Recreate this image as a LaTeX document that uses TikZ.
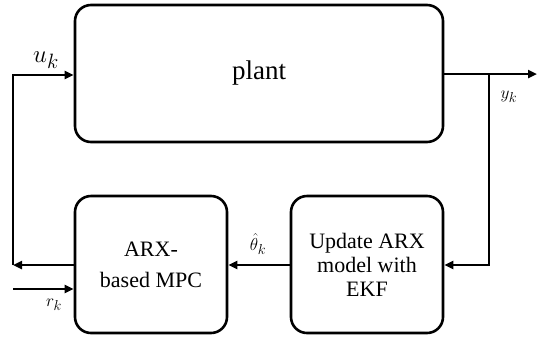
\documentclass[tikz,border=0pt]{standalone}
\usepackage{fontspec}
\setmainfont{Liberation Serif}
\usetikzlibrary{arrows.meta}
\begin{document}
\begin{tikzpicture}[x=1pt,y=-1pt,
  blk/.style={draw,line width=2.6pt,rounded corners=16pt,align=center,inner sep=0pt},
  conn/.style={line width=2.6pt,-{Triangle[length=9pt,width=8pt]}},
  wire/.style={line width=2.6pt}]
\useasboundingbox (0,0) rectangle (540,338);
\node[blk,minimum width=368pt,minimum height=137pt,font=\fontsize{27}{32}\selectfont] (plant) at (259,73.5) {plant};
\node[blk,minimum width=152pt,minimum height=137pt,font=\fontsize{22}{31}\selectfont] (mpc) at (151,264.5) {ARX-\\based MPC};
\node[blk,minimum width=152pt,minimum height=137pt,font=\fontsize{22}{24}\selectfont] (upd) at (367,264.5) {Update ARX\\model with\\EKF};
\coordinate (ul) at (13,265);
\coordinate (ut) at (13,75);
\coordinate (rin) at (13,289);
\coordinate (yout) at (537,74);
\coordinate (yb) at (489,74);
\coordinate (yd) at (489,265);
\draw[conn] (mpc.west |- ul) -- (ul);
\draw[conn] (ul) -- (ut) -- (plant.west |- ut);
\draw[conn] (rin) -- (mpc.west |- rin);
\draw[conn] (plant.east |- yout) -- (yout);
\draw[conn] (yb) -- (yd) -- (upd.east |- yd);
\draw[conn] (upd.west |- yd) -- (mpc.east |- yd);
\node[font=\fontsize{30}{34}\selectfont] (uk) at (46,60) {$u_k$};
\node[font=\fontsize{19}{22}\selectfont] (yk) at (509,97) {$y_k$};
\node[font=\fontsize{19}{22}\selectfont] (rk) at (54,305) {$r_k$};
\node[font=\fontsize{19}{22}\selectfont] (th) at (258,244) {$\hat{\theta}_k$};
\end{tikzpicture}
\end{document}
